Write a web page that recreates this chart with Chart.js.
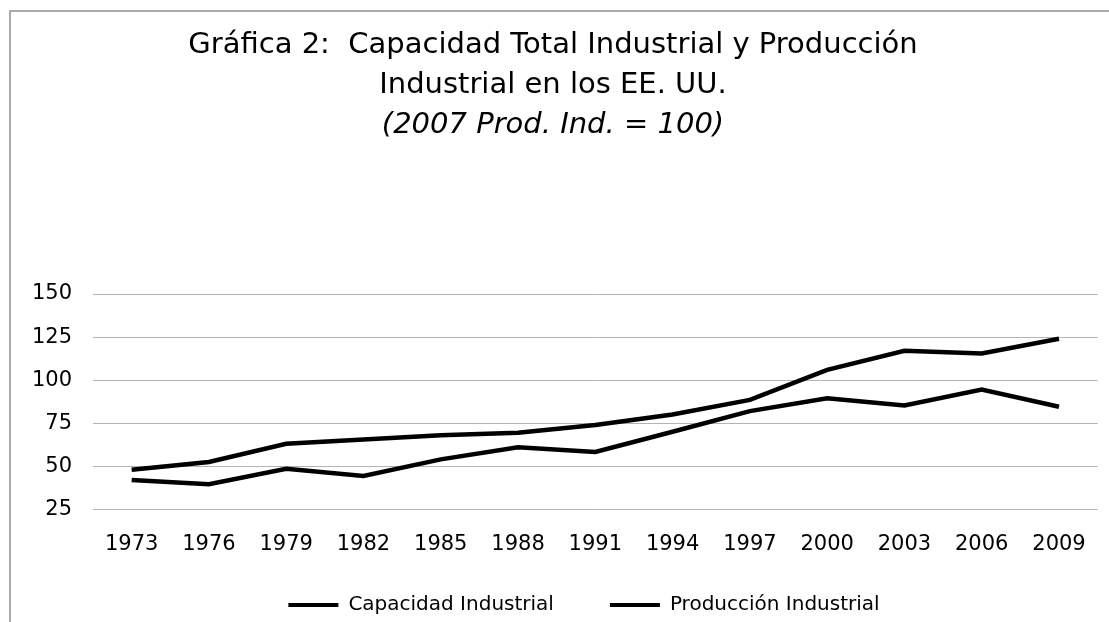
<!DOCTYPE html>
<html>
<head>
<meta charset="utf-8">
<script src="https://cdn.jsdelivr.net/npm/chart.js@4/dist/chart.umd.min.js"></script>
<style>
    body { margin: 0; background: #fff; overflow: hidden; }
    #marco {
        position: absolute; left: 9px; top: 10px; width: 1200px; height: 700px;
        border-left: 2px solid #ababab; border-top: 2px solid #ababab;
    }
    #grafica { position: absolute; left: 0; top: 0; }
</style>
</head>
<body>
<div id="marco"></div>
<canvas id="grafica" width="1109" height="622"></canvas>
<script>
// Datos de la gráfica
var anios = ['1973', '1976', '1979', '1982', '1985', '1988', '1991', '1994', '1997', '2000', '2003', '2006', '2009'];
var capacidad = [48, 52.5, 63, 65.5, 68, 69.5, 74, 80, 88.5, 106, 117, 115.5, 124];
var produccion = [42, 39.5, 48.5, 44.3, 54, 61, 58.3, 70, 82, 89.5, 85.3, 94.5, 84.5];
var ticksY = [25, 50, 75, 100, 125, 150];

var fuente = 'DejaVu Sans';

// mueve la leyenda (derecha y arriba) como en el original
var moverLeyenda = {
    id: 'moverLeyenda',
    afterLayout: function (chart) {
        chart.legend.left += 31;
        chart.legend.right += 31;
        chart.legend.top -= 41.5;
    }
};

const ctx = document.getElementById('grafica');

new Chart(ctx, {
    type: 'line',
    data: {
        labels: anios,
        datasets: [{
            label: 'Capacidad Industrial',
            data: capacidad,
            borderColor: '#000',
            backgroundColor: '#000',
            borderWidth: 4.5,
            pointRadius: 0,
            tension: 0
        }, {
            label: 'Producción Industrial',
            data: produccion,
            borderColor: '#000',
            backgroundColor: '#000',
            borderWidth: 4.5,
            pointRadius: 0,
            tension: 0
        }]
    },
    options: {
        responsive: false,
        animation: false,
        layout: { padding: { left: 4, right: 7, top: 0, bottom: 0 } },
        scales: {
            x: {
                offset: true,
                grid: { display: false, drawTicks: false },
                border: { display: false },
                ticks: {
                    color: '#000',
                    font: { family: fuente, size: 21 },
                    padding: 23,
                    maxRotation: 0,
                    autoSkip: false
                }
            },
            y: {
                min: ticksY[0],
                max: ticksY[ticksY.length - 1],
                grid: { color: '#b4b4b4', lineWidth: 1, drawTicks: false },
                border: { display: false },
                ticks: {
                    stepSize: ticksY[1] - ticksY[0],
                    color: '#000',
                    font: { family: fuente, size: 21 },
                    padding: 21
                },
                afterFit: function (s) { s.width = 89; }
            }
        },
        plugins: {
            title: {
                display: true,
                text: ['Gráfica 2:  Capacidad Total Industrial y Producción', 'Industrial en los EE. UU.'],
                color: '#000',
                font: { family: fuente, size: 29, weight: 'normal', lineHeight: 40 / 29 },
                padding: { top: 25, bottom: 0 }
            },
            subtitle: {
                display: true,
                text: '(2007 Prod. Ind. = 100)',
                color: '#000',
                font: { family: fuente, size: 29, style: 'italic', lineHeight: 40 / 29 },
                padding: { top: 0, bottom: 149 }
            },
            legend: {
                position: 'bottom',
                maxHeight: 41.5,
                labels: {
                    color: '#000',
                    font: { family: fuente, size: 20 },
                    boxWidth: 50,
                    boxHeight: 4,
                    padding: 56,
                    generateLabels: function (chart) {
                        var items = Chart.defaults.plugins.legend.labels.generateLabels(chart);
                        items.forEach(function (it) { it.lineWidth = 0; it.fillStyle = '#000'; });
                        return items;
                    }
                }
            },
            tooltip: { enabled: false }
        }
    },
    plugins: [moverLeyenda]
});
</script>
</body>
</html>
